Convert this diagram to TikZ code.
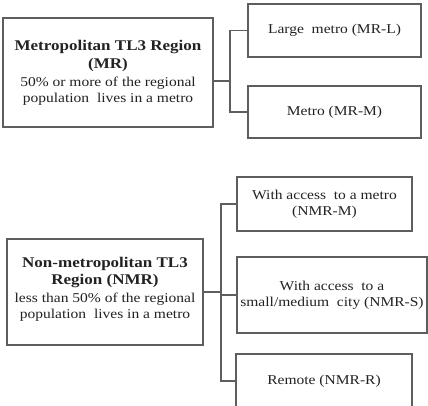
\documentclass[tikz,border=0pt]{standalone}
\usepackage{fontspec}
\setmainfont{Liberation Serif}[FakeStretch=1.15]
\definecolor{boxgray}{HTML}{5E5E5E}
\definecolor{txt}{HTML}{222222}
\newcommand{\ttlfont}{\bfseries\fontsize{14.8}{18}\selectfont}
\newcommand{\subfont}{\mdseries\fontsize{13.5}{16}\selectfont}
\begin{document}
\begin{tikzpicture}[x=1pt,y=-1pt,
  box/.style={draw=boxgray, line width=1.3pt, inner sep=0pt, align=center,
    text=txt, font=\fontsize{13.5}{16}\selectfont},
  link/.style={draw=boxgray, line width=1.3pt}]
\clip (0,0) rectangle (428,405);
\fill[white] (0,0) rectangle (428,405);
% metropolitan
\node[box, minimum width=210, minimum height=109] (mr) at (108,72.5)
  {\ttlfont Metropolitan TL3 Region\\[2pt] \ttlfont (MR)\\[2pt] \subfont 50\% or more of the regional\\ \subfont population\ \ lives in a metro};
\node[box, minimum width=173, minimum height=53] (mrl) at (334.5,30.5) {Large\ \ metro (MR-L)};
\node[box, minimum width=173, minimum height=52] (mrm) at (334.5,112) {Metro (MR-M)};
% non-metropolitan
\node[box, minimum width=196, minimum height=106] (nmr) at (105,292)
  {\ttlfont Non-metropolitan TL3\\[1pt] \ttlfont Region (NMR)\\[2pt] \subfont less than 50\% of the regional\\ \subfont population\ \ lives in a metro\\[-7pt]};
\node[box, minimum width=175, minimum height=54] (nmrm) at (324.5,204) {With access\ \ to a metro\\(NMR-M)};
\node[box, minimum width=190, minimum height=76] (nmrs) at (332,295) {With access\ \ to a\\small/medium\ \ city (NMR-S)};
\node[box, minimum width=176, minimum height=54] (nmrr) at (324,381) {Remote (NMR-R)};
% connectors
\coordinate (j1) at (230,81);
\draw[link] (mr.east |- j1) -- (j1);
\draw[link] (mrl.west) -| (j1) |- (mrm.west);
\coordinate (j2) at (221,292);
\draw[link] (nmr.east) -- (j2);
\draw[link] (nmrm.west) -| (j2) |- (nmrr.west);
\draw[link] (j2 |- nmrs.west) -- (nmrs.west);
\end{tikzpicture}
\end{document}
